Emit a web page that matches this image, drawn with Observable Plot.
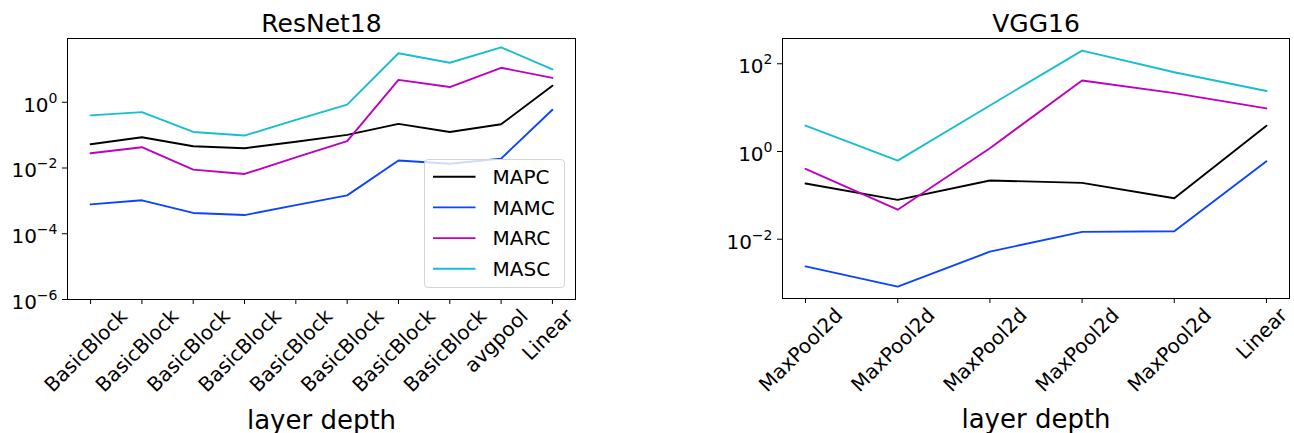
<!DOCTYPE html>
<html><head><meta charset="utf-8">
<script src="https://cdn.jsdelivr.net/npm/d3@7"></script>
<script src="https://cdn.jsdelivr.net/npm/@observablehq/plot@0.6"></script>
<style>
body{margin:0;background:#fff;font-family:"DejaVu Sans",sans-serif;}
#wrap{position:relative;width:1294px;height:433px;overflow:hidden;background:#fff}
.panel{position:absolute;top:0;width:647px;height:433px}
.legend{position:absolute;background:rgba(255,255,255,0.8);border:1px solid #d4d4d4;border-radius:4px;box-sizing:border-box}
</style></head><body><div id="wrap"></div>
<script>
// ---- data ----
const seriesNames = ["MAPC", "MAMC", "MARC", "MASC"];
const seriesColors = ["#000000", "#0a44ff", "#bf00bf", "#17becf"];

const resnetTitle = "ResNet18";
const resnetLayers = ["BasicBlock","BasicBlock","BasicBlock","BasicBlock","BasicBlock","BasicBlock","BasicBlock","BasicBlock","avgpool","Linear"];
const resnetMAPC = [0.053, 0.086, 0.046, 0.040, 0.063, 0.102, 0.22, 0.125, 0.214, 3.2];
const resnetMAMC = [7.8e-4, 1.04e-3, 4.3e-4, 3.7e-4, 7.4e-4, 1.47e-3, 0.017, 0.0135, 0.0193, 0.59];
const resnetMARC = [0.028, 0.043, 0.0089, 0.0066, 0.021, 0.066, 4.8, 2.9, 11.2, 5.5];
const resnetMASC = [0.40, 0.50, 0.125, 0.097, 0.29, 0.85, 31, 15.9, 47, 10];
const resnetYTicks = [1e-6, 1e-4, 1e-2, 1];

const vggTitle = "VGG16";
const vggLayers = ["MaxPool2d","MaxPool2d","MaxPool2d","MaxPool2d","MaxPool2d","Linear"];
const vggMAPC = [0.186, 0.079, 0.218, 0.193, 0.086, 3.85];
const vggMAMC = [2.4e-3, 8.3e-4, 5.2e-3, 0.0147, 0.0152, 0.60];
const vggMARC = [0.40, 0.047, 1.19, 41.7, 21.4, 9.6];
const vggMASC = [3.9, 0.62, 11.2, 200, 64, 24];
const vggYTicks = [1e-2, 1, 1e2];

const xLabel = "layer depth";

// ---- drawing ----
const wrap = document.getElementById("wrap");
const measureCtx = document.createElement("canvas").getContext("2d");
measureCtx.font = "20px 'DejaVu Sans'";

function supLabel(d) {
  const e = Math.round(Math.log10(d));
  return "10^" + e;
}

function makePanel(opts) {
  const {title, layers, values, yDomain, yTicks, left, marginLeft, marginRight, marginBottom, legend} = opts;
  const n = layers.length;
  const idx = d3.range(n);
  const data = idx.flatMap(i => seriesNames.map((s, k) => ({i, layer: layers[i], series: s, value: values[k][i]})));
  const pad = 0.05 * (n - 1);
  // matplotlib-style centred rotated tick labels: one text mark per label, offset by its rotated bbox
  const tickLabelMarks = idx.map(i => {
    const w = measureCtx.measureText(layers[i]).width;
    const off = 9.8 + (w + 23.3) * Math.SQRT1_2 / 2;
    return Plot.text([i], {x: d => d, text: d => layers[d], frameAnchor: "bottom", rotate: -45,
      textAnchor: "middle", fontSize: 20, dy: off});
  });
  const chart = Plot.plot({
    width: 647, height: 433,
    marginLeft, marginRight, marginTop: 38, marginBottom,
    style: {fontFamily: "DejaVu Sans", fontSize: "20px", color: "black", background: "transparent", overflow: "visible"},
    x: {type: "linear", domain: [-pad, n - 1 + pad]},
    y: {type: "log", domain: yDomain},
    color: {domain: seriesNames, range: seriesColors},
    marks: [
      Plot.lineY(data, {x: "i", y: "value", z: "series", stroke: "series", strokeWidth: 1.9}),
      Plot.frame({stroke: "black", strokeWidth: 1}),
      Plot.axisY({ticks: yTicks, tickFormat: supLabel, tickSize: 5, tickPadding: 5, fontSize: 20, label: null}),
      Plot.axisX({ticks: idx, tickSize: 5, tickFormat: () => "", label: null}),
      ...tickLabelMarks,
      Plot.text([title], {frameAnchor: "top", lineAnchor: "bottom", dy: -7, fontSize: 25}),
      Plot.text([xLabel], {frameAnchor: "bottom", lineAnchor: "bottom", dy: 129, fontSize: 26})
    ]
  });
  const div = document.createElement("div");
  div.className = "panel";
  div.style.left = left + "px";
  div.appendChild(chart);
  wrap.appendChild(div);

  // superscript exponents on y tick labels
  chart.querySelectorAll('g[aria-label="y-axis tick label"] text').forEach(t => {
    const s = t.textContent;
    const m = /^10\^(-?\d+)$/.exec(s);
    if (!m) return;
    t.textContent = "";
    const base = document.createElementNS("http://www.w3.org/2000/svg", "tspan");
    base.textContent = "10";
    const sup = document.createElementNS("http://www.w3.org/2000/svg", "tspan");
    sup.textContent = m[1].replace("-", "\u2212");
    sup.setAttribute("font-size", "14px");
    sup.setAttribute("dy", "-9");
    t.appendChild(base);
    t.appendChild(sup);
    t.setAttribute("transform", (t.getAttribute("transform") || "") + " translate(0,3)");
  });

  if (legend) {
    const lg = document.createElement("div");
    lg.className = "legend";
    Object.assign(lg.style, {left: legend.left + "px", top: legend.top + "px", width: legend.width + "px", height: legend.height + "px"});
    div.appendChild(lg);
    const svg = d3.select(lg).append("svg").attr("width", legend.width).attr("height", legend.height)
      .style("position", "absolute").style("left", "-1px").style("top", "-1px").style("overflow", "visible");
    seriesNames.forEach((s, k) => {
      const cy = 17.7 + k * 30.7;
      svg.append("line").attr("x1", 9).attr("x2", 51.5).attr("y1", cy).attr("y2", cy)
        .attr("stroke", seriesColors[k]).attr("stroke-width", 1.9);
      svg.append("text").attr("x", 68.5).attr("y", cy).attr("dy", "0.36em")
        .attr("font-family", "DejaVu Sans").attr("font-size", 20).attr("fill", "black").text(s);
    });
  }
}

makePanel({
  title: resnetTitle, layers: resnetLayers,
  values: [resnetMAPC, resnetMAMC, resnetMARC, resnetMASC],
  yDomain: [1e-6, 87], yTicks: resnetYTicks,
  left: 0, marginLeft: 67, marginRight: 72, marginBottom: 134,
  legend: {left: 423.5, top: 159, width: 141, height: 129}
});

makePanel({
  title: vggTitle, layers: vggLayers,
  values: [vggMAPC, vggMAMC, vggMARC, vggMASC],
  yDomain: [4.45e-4, 377], yTicks: vggYTicks,
  left: 647, marginLeft: 135, marginRight: 5, marginBottom: 135,
  legend: null
});
</script>
</body></html>
